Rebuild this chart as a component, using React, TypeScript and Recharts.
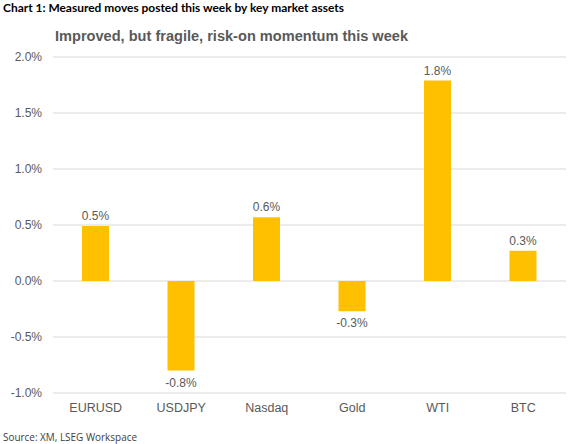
import React from "react";
import { BarChart, Bar, XAxis, YAxis, CartesianGrid, LabelList } from "recharts";

const categories = ["EURUSD", "USDJPY", "Nasdaq", "Gold", "WTI", "BTC"];
const moves = [0.49, -0.8, 0.57, -0.27, 1.79, 0.27];
const yTicks = [-1, -0.5, 0, 0.5, 1, 1.5, 2];

const headerText = "Chart 1: Measured moves posted this week by key market assets";
const titleText = "Improved, but fragile, risk-on momentum this week";
const sourceText = "Source: XM, LSEG Workspace";

const data = categories.map((c, i) => ({ name: c, value: moves[i] }));

const GRAY = "#595959";
const FONT = "'Liberation Sans', Arial, sans-serif";

const renderLabel = (props: any) => {
  const { x, y, width, height, value } = props;
  const top = Math.min(y, y + height);
  const bottom = Math.max(y, y + height);
  const cx = x + width / 2;
  const neg = value < 0;
  return (
    <text
      x={cx}
      y={neg ? bottom + 16 : top - 6}
      textAnchor="middle"
      fill={GRAY}
      fontSize={12}
      fontFamily={FONT}
    >
      {`${Number(value).toFixed(1)}%`}
    </text>
  );
};

export default function App() {
  return (
    <div style={{ position: "absolute", left: 0, top: 0, width: 577, height: 444, background: "#fff", overflow: "hidden" }}>
      <BarChart
        width={577}
        height={444}
        data={data}
        margin={{ top: 57, right: 11, bottom: 21, left: 8 }}
      >
        <CartesianGrid vertical={false} stroke="#d9d9d9" />
        <XAxis
          dataKey="name"
          axisLine={false}
          tickLine={false}
          tickSize={0}
          tickMargin={10}
          height={30}
          tick={{ fill: GRAY, fontSize: 12.5, fontFamily: FONT }}
          interval={0}
        />
        <YAxis
          domain={[-1, 2]}
          ticks={yTicks}
          axisLine={false}
          tickLine={false}
          tickSize={0}
          tickMargin={11}
          width={45}
          tick={{ fill: GRAY, fontSize: 12, fontFamily: FONT }}
          tickFormatter={(v: number) => `${v.toFixed(1)}%`}
        />
        <Bar dataKey="value" fill="#FFC000" barSize={27} isAnimationActive={false}>
          <LabelList dataKey="value" content={renderLabel} />
        </Bar>
      </BarChart>
      <svg
        width={577}
        height={444}
        style={{ position: "absolute", left: 0, top: 0, pointerEvents: "none" }}
      >
        <text
          x={3}
          y={12}
          fontFamily="Lato, 'Open Sans', sans-serif"
          fontWeight="bold"
          fontSize={12}
          fill="#000"
          textLength={341}
          lengthAdjust="spacingAndGlyphs"
        >
          {headerText}
        </text>
        <text
          x={55}
          y={41}
          fontFamily={FONT}
          fontWeight="bold"
          fontSize={14.5}
          fill={GRAY}
          textLength={353}
          lengthAdjust="spacingAndGlyphs"
        >
          {titleText}
        </text>
        <text
          x={3}
          y={441}
          fontFamily="'Open Sans', sans-serif"
          fontSize={10}
          fill="#404040"
          textLength={134}
          lengthAdjust="spacingAndGlyphs"
        >
          {sourceText}
        </text>
      </svg>
    </div>
  );
}
